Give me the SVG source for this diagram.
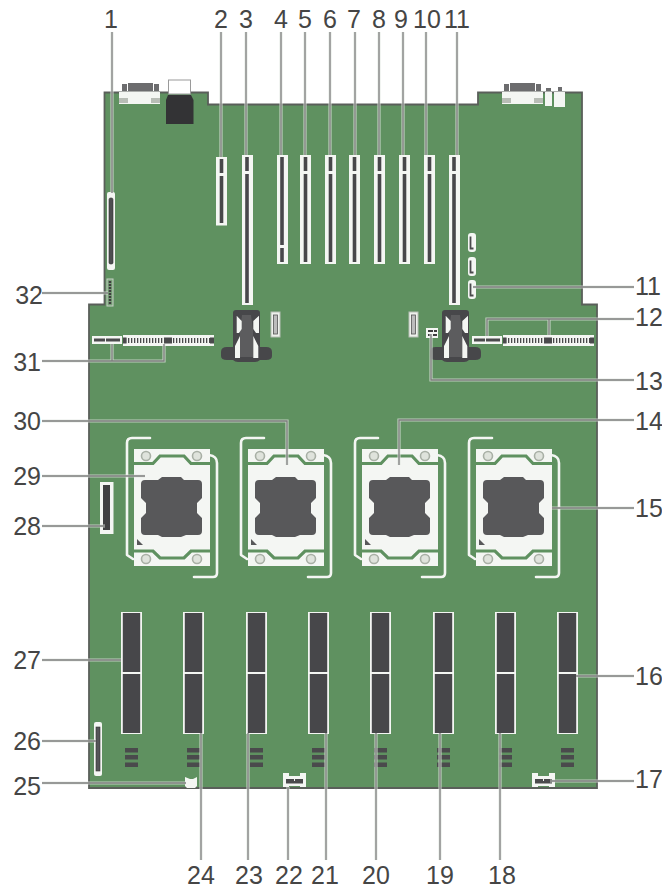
<svg xmlns="http://www.w3.org/2000/svg" width="662" height="891" viewBox="0 0 662 891">
<style>
.lb{font:25px "Liberation Sans",Arial,sans-serif;fill:#454545}
.m{text-anchor:middle}
.e{text-anchor:end}
.h{fill:none;stroke:#dfe6df;stroke-width:3.2;stroke-opacity:.75}
.l{fill:none;stroke:#7d7d7d;stroke-width:1.3}
.w{fill:#f4f6f3}
.d{fill:#4a4a4c}
.br{fill:none;stroke:#f4f6f3;stroke-width:2.6;stroke-linecap:round;stroke-linejoin:round}
.ring{fill:#dfe3dc;stroke:#a9b0a6;stroke-width:1.6}
.g{fill:none;stroke:#5f9160;stroke-width:3.2}
.sl{stroke:#47474a;stroke-width:3.6;fill:none}
</style>
<defs>
<g id="cpu">
<path class="br" d="M16-11H-2Q-7-11-7-6V106L-1 110"/>
<path class="br" d="M75 6Q83 7 83 14V124Q83 128 79 128H60"/>
<rect class="w" width="76" height="117"/>
<path class="g" d="M0 14.500H19L26 7H50L57 14.500H76"/>
<path class="g" d="M0 102H19L26 109H50L57 102H76"/>
<circle class="ring" cx="12" cy="7" r="4.500"/><circle class="ring" cx="63" cy="7" r="4.500"/>
<circle class="ring" cx="12" cy="110" r="4.500"/><circle class="ring" cx="63" cy="110" r="4.500"/>
<path fill="#58585a" d="M28 28H47L50 31H64Q68 31 68 35V49L63 54V64L68 69V82Q68 86 64 86H52L47 88H28L24 86H11Q7 86 7 82V69L12 64V54L7 49V35Q7 31 11 31H24Z"/>
<path fill="#58585a" d="M3 90L9 96H3Z"/>
</g>
<g id="dimm">
<rect class="w" x="0" y="0" width="21" height="122"/>
<rect fill="#47474a" x="1.800" y="1" width="17.400" height="59"/>
<rect fill="#47474a" x="1.800" y="62" width="17.400" height="59"/>
<g fill="#4a4a4c"><rect x="4" y="136" width="13" height="4.500"/><rect x="4" y="143" width="13" height="4.500"/><rect x="4" y="150.500" width="13" height="4.500"/></g>
</g>
<g id="sata"><rect class="w" x="0" y="0" width="8" height="19" rx="3"/><path d="M2.500 3.500V15.500H5.500" fill="none" stroke="#4a4a4c" stroke-width="1.800"/></g>
<g id="big">
<rect class="w" width="91" height="11"/>
<path d="M2 5.500H89" stroke="#4a4a4c" stroke-width="5" stroke-dasharray="1.300 1.700"/>
<rect class="d" x="0" y="2.500" width="3.500" height="6"/><rect class="d" x="41" y="2.500" width="8" height="6"/><rect class="d" x="87" y="2.500" width="4" height="6"/>
</g>
<g id="small"><rect class="w" width="30" height="8"/><rect class="d" x="2" y="2.500" width="11" height="3"/><rect class="d" x="14" y="2.500" width="14" height="3"/></g>
<g id="latch">
<path fill="#47474a" d="M3 0H24Q27 0 27 3V37H33Q39 37 39 42V46Q39 50 33 50H27Q25 52 22 52H5Q2 52 0 50H-6Q-12 50-12 46V42Q-12 37-6 37H0V3Q0 0 3 0Z"/>
<path fill="#5c5c5e" d="M9 5H18L20 20V47H7V20Z"/>
<path fill="#f4f6f3" d="M3.700 5.700L8.700 11V19L6 23H3.700Z M26 5.700L20.300 11V19L23 23H26Z M7 26L2 36V48H7Z M20.300 26L25.300 36V48H20.300Z"/>
</g>
<g id="tiny"><rect fill="#eef1ec" stroke="#b8bfb6" width="9" height="25"/><rect fill="#bcbcbc" stroke="#555" stroke-width=".8" x="2.500" y="3" width="4" height="19"/></g>
<g id="cable"><path class="w" d="M0 0H6V3H17V0H23V14H17V13H6V14H0Z"/><rect class="d" x="3" y="6" width="17" height="4.500"/><rect class="w" x="11" y="6" width="1" height="2"/></g>
</defs>

<g id="board">
<path fill="#5f9160" stroke="#5a5f5a" stroke-width="1.800" d="M104.500 92.500H208V104.500H478V92.500H582V304.500H597V788H89V304.500H104.500Z"/>
</g>

<g id="rear-left">
<path fill="#6c6c6e" d="M122 84H127V91H122ZM128 83H153V91H128ZM154 84H159V91H154Z"/>
<rect class="w" x="119" y="92" width="41" height="12"/>
<rect fill="#b8bdb6" x="119" y="98" width="9" height="5"/><rect fill="#b8bdb6" x="151" y="98" width="9" height="5"/>
<rect fill="#fff" stroke="#9a9a9a" x="168.500" y="80" width="22" height="14"/>
<path fill="#333335" d="M168 95H191L193.500 100V124H166V100Z"/>
</g>
<g id="rear-right">
<path fill="#6c6c6e" d="M504 84H509V91H504ZM510 83H535V91H510ZM536 84H541V91H536ZM546 88H551V91H546ZM558 87H562V91H558Z"/>
<rect class="w" x="502" y="92" width="41" height="12"/>
<rect fill="#b8bdb6" x="502" y="98" width="9" height="5"/><rect fill="#b8bdb6" x="534" y="98" width="9" height="5"/>
<rect class="w" x="545" y="92" width="7" height="14"/><rect class="w" x="554" y="92" width="11" height="15"/>
</g>

<g id="conn-1"><rect class="w" x="107" y="192" width="8" height="78" rx="2"/><rect fill="#4d4d50" stroke="#333" stroke-width=".6" x="109" y="198" width="4" height="66" rx="1.500"/></g>
<g id="conn-32"><rect fill="#78a078" stroke="#c8d2c6" x="107" y="279" width="6" height="27"/><path stroke="#3f3f3f" stroke-width="2.400" stroke-dasharray="2 1" d="M110 281V304"/></g>

<g id="slots">
<g id="slot-2"><rect class="w" x="216" y="157" width="11" height="68.500"/><path class="sl" d="M221.500 159V173M221.500 176V223"/></g>
<g id="slot-3"><rect class="w" x="242" y="155" width="11" height="150"/><path class="sl" d="M247 157V171M247 174V303"/></g>
<g id="slot-4"><rect class="w" x="277" y="155" width="11" height="109"/><path class="sl" d="M282 157V245M282 248V262"/></g>
<g id="slot-5"><rect class="w" x="300" y="155" width="11" height="109"/><path class="sl" d="M305.500 157V171M305.500 174V262"/></g>
<g id="slot-6"><rect class="w" x="325" y="155" width="11" height="109"/><path class="sl" d="M330.500 157V171M330.500 174V262"/></g>
<g id="slot-7"><rect class="w" x="349" y="155" width="11" height="109"/><path class="sl" d="M354.500 157V171M354.500 174V262"/></g>
<g id="slot-8"><rect class="w" x="374" y="155" width="11" height="109"/><path class="sl" d="M379.500 157V171M379.500 174V262"/></g>
<g id="slot-9"><rect class="w" x="399" y="155" width="11" height="109"/><path class="sl" d="M404.500 157V171M404.500 174V262"/></g>
<g id="slot-10"><rect class="w" x="424" y="155" width="11" height="109"/><path class="sl" d="M429.500 157V171M429.500 174V262"/></g>
<g id="slot-11"><rect class="w" x="449" y="155" width="11" height="150"/><path class="sl" d="M454 157V171M454 174V303"/></g>
</g>

<g id="sata-ports">
<use href="#sata" x="468" y="233"/>
<use href="#sata" x="468" y="257"/>
<use href="#sata" x="468" y="280"/>
</g>

<g id="latch-left"><use href="#latch" x="233" y="310"/></g>
<g id="latch-right"><use href="#latch" x="442" y="310"/></g>
<g id="tiny-left"><use href="#tiny" x="271" y="312"/></g>
<g id="tiny-right"><use href="#tiny" x="409" y="312"/></g>
<g id="jumper-13"><rect class="w" x="426" y="328" width="12" height="10"/><path fill="#3d3d3d" d="M428 330H433V332H428ZM434 330H437V332H434ZM428 334H431V336H428ZM433 334H437V336H433Z"/></g>

<g id="conn-31"><use href="#small" x="92" y="336"/><use href="#big" x="123" y="335"/></g>
<g id="conn-12"><use href="#small" x="472" y="336"/><use href="#big" x="503" y="335"/></g>

<g id="cpu-1"><use href="#cpu" x="134" y="449"/></g>
<g id="cpu-2"><use href="#cpu" x="248" y="449"/></g>
<g id="cpu-3"><use href="#cpu" x="362" y="449"/></g>
<g id="cpu-4"><use href="#cpu" x="476" y="449"/></g>

<g id="conn-28"><rect class="w" x="100" y="482" width="13.500" height="52"/><rect fill="#404042" x="103" y="485" width="7" height="45"/></g>

<g id="dimms">
<use id="dimm-1" href="#dimm" x="121" y="612"/>
<use id="dimm-2" href="#dimm" x="183" y="612"/>
<use id="dimm-3" href="#dimm" x="246" y="612"/>
<use id="dimm-4" href="#dimm" x="308" y="612"/>
<use id="dimm-5" href="#dimm" x="370" y="612"/>
<use id="dimm-6" href="#dimm" x="433" y="612"/>
<use id="dimm-7" href="#dimm" x="495" y="612"/>
<use id="dimm-8" href="#dimm" x="557" y="612"/>
</g>

<g id="conn-26"><rect class="w" x="94" y="722" width="8" height="54" rx="2"/><rect fill="#555558" stroke="#333" stroke-width=".6" x="96" y="727" width="4" height="44"/></g>
<g id="conn-25"><path class="w" d="M185 777L190 779H193L197 777V786L195 788H187L185 786Z"/></g>
<g id="conn-22"><use href="#cable" x="283" y="773"/></g>
<g id="conn-17"><use href="#cable" x="532" y="773"/></g>

<g id="connectors">
<path class="h" d="M112 32V193M221 32V157M246 32V155M281 32V155M305 32V155M330 32V155M355 32V155M379 32V155M403 32V155M426 32V155M457 32V155M473 287H634M487 336V319H634M549 319V335M431 334V380H634M399 465V420H634M552 508H634M576 676H634M550 781H634M42 293H108M42 361H164V344M112 361V344M42 421H287V465M42 476H145M42 526H105M42 660H121M42 741H96M42 783H186M201 733V860M248 733V860M288 787V860M326 733V860M376 733V860M440 733V860M500 733V860"/>
<path class="l" d="M112 32V193M221 32V157M246 32V155M281 32V155M305 32V155M330 32V155M355 32V155M379 32V155M403 32V155M426 32V155M457 32V155M473 287H634M487 336V319H634M549 319V335M431 334V380H634M399 465V420H634M552 508H634M576 676H634M550 781H634M42 293H108M42 361H164V344M112 361V344M42 421H287V465M42 476H145M42 526H105M42 660H121M42 741H96M42 783H186M201 733V860M248 733V860M288 787V860M326 733V860M376 733V860M440 733V860M500 733V860"/>
</g>

<g id="labels">
<text class="lb m" x="111" y="28">1</text>
<text class="lb m" x="221" y="28">2</text>
<text class="lb m" x="246" y="28">3</text>
<text class="lb m" x="281" y="28">4</text>
<text class="lb m" x="305" y="28">5</text>
<text class="lb m" x="330" y="28">6</text>
<text class="lb m" x="354" y="28">7</text>
<text class="lb m" x="379" y="28">8</text>
<text class="lb m" x="401" y="28">9</text>
<text class="lb m" x="427" y="28">10</text>
<text class="lb m" x="457" y="28">11</text>
<text class="lb" x="635" y="295">11</text>
<text class="lb" x="635" y="326">12</text>
<text class="lb" x="635" y="390">13</text>
<text class="lb" x="635" y="430">14</text>
<text class="lb" x="635" y="517">15</text>
<text class="lb" x="635" y="685">16</text>
<text class="lb" x="635" y="788">17</text>
<text class="lb m" x="502" y="884">18</text>
<text class="lb m" x="440" y="884">19</text>
<text class="lb m" x="376" y="884">20</text>
<text class="lb m" x="325" y="884">21</text>
<text class="lb m" x="289" y="884">22</text>
<text class="lb m" x="249" y="884">23</text>
<text class="lb m" x="201" y="884">24</text>
<text class="lb e" x="41" y="795">25</text>
<text class="lb e" x="41" y="750">26</text>
<text class="lb e" x="41" y="669">27</text>
<text class="lb e" x="41" y="535">28</text>
<text class="lb e" x="41" y="485">29</text>
<text class="lb e" x="41" y="430">30</text>
<text class="lb e" x="41" y="371">31</text>
<text class="lb e" x="43" y="304">32</text>
</g>
</svg>
